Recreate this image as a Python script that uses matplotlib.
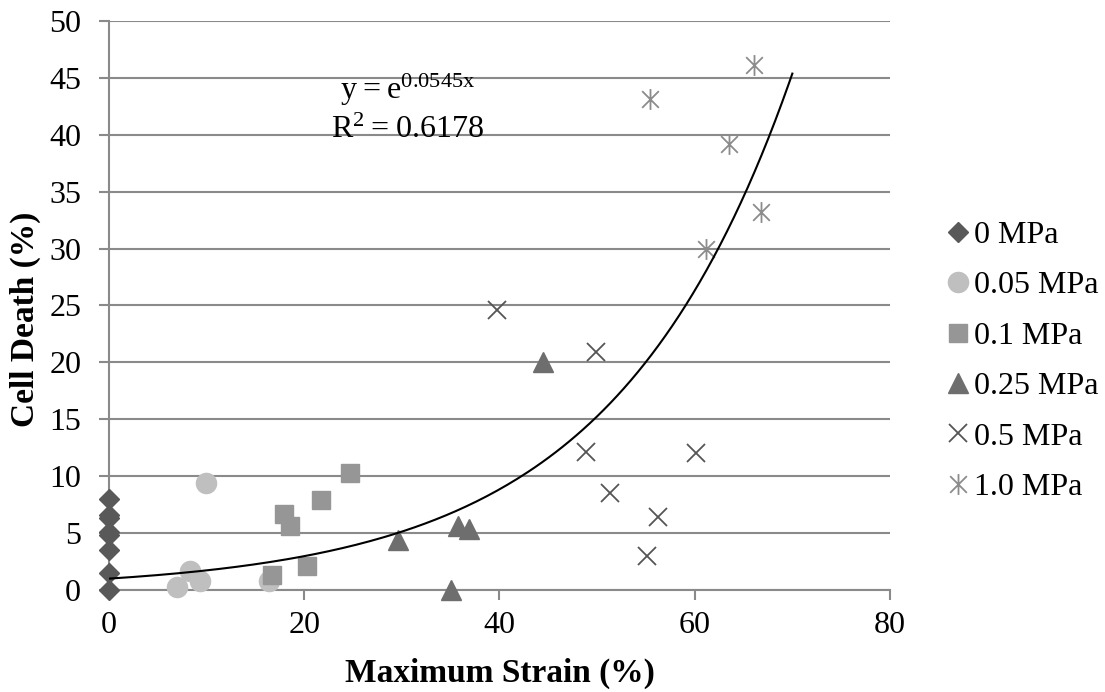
import numpy as np
import matplotlib
matplotlib.use('Agg')
import matplotlib.pyplot as plt
from matplotlib.path import Path

plt.rcParams['font.family'] = ['Liberation Serif', 'DejaVu Serif']
plt.rcParams['mathtext.fontset'] = 'custom'
plt.rcParams['mathtext.rm'] = 'Liberation Serif'

# data (x = maximum strain %, y = cell death %)
x_0 = [0, 0, 0, 0, 0, 0, 0, 0]
y_0 = [0, 1.5, 3.5, 4.8, 5.1, 6.3, 6.6, 8.0]

x_005 = [9.9, 8.3, 9.3, 7.0, 16.4]
y_005 = [9.4, 1.7, 0.8, 0.3, 0.8]

x_01 = [24.7, 21.7, 17.9, 18.5, 20.3, 16.7]
y_01 = [10.3, 7.9, 6.7, 5.6, 2.1, 1.3]

x_025 = [29.6, 35.8, 36.9, 35.0, 44.5]
y_025 = [4.4, 5.6, 5.4, 0.0, 20.0]

x_05 = [39.7, 49.9, 48.9, 60.1, 51.3, 56.2, 55.1]
y_05 = [24.6, 20.9, 12.1, 12.0, 8.5, 6.4, 3.0]

x_10 = [66.1, 55.4, 63.5, 66.8, 61.2]
y_10 = [46.1, 43.1, 39.2, 33.2, 30.0]

labels = ['0 MPa', '0.05 MPa', '0.1 MPa', '0.25 MPa', '0.5 MPa', '1.0 MPa']

# exponential trendline y = a*e^(b*x)
fit_a = 1.0
fit_b = 0.0545
fit_r2 = 0.6178
fit_xmax = 70

# asterisk marker like Excel's (X plus vertical bar)
star = Path([(-1, -1), (1, 1), (-1, 1), (1, -1), (0, -1.25), (0, 1.25)],
            [Path.MOVETO, Path.LINETO, Path.MOVETO, Path.LINETO, Path.MOVETO, Path.LINETO])

fig = plt.figure(figsize=(11.05, 6.92), dpi=100)
ax = fig.add_axes([0.0986, 0.1474, 0.7068, 0.8223])

grid_col = '#8a8a8a'
ax.set_xlim(0, 80)
ax.set_ylim(0, 50)
ax.set_xticks(np.arange(0, 81, 20))
ax.set_yticks(np.arange(0, 51, 5))
ax.yaxis.grid(True, color=grid_col, lw=1.5, zorder=0)
ax.set_axisbelow(True)
for s in ['top', 'right']:
    ax.spines[s].set_visible(False)
for s in ['left', 'bottom']:
    ax.spines[s].set_color(grid_col)
    ax.spines[s].set_linewidth(1.5)
ax.tick_params(axis='both', colors=grid_col, labelcolor='black', labelsize=23,
               width=1.5, length=7)
ax.tick_params(axis='y', pad=13)
ax.tick_params(axis='x', pad=8)

ax.plot(x_0, y_0, ls='none', marker='D', ms=10.5, color='#595959', label=labels[0], clip_on=False, zorder=3)
ax.plot(x_005, y_005, ls='none', marker='o', ms=14.5, color='#bfbfbf', label=labels[1], clip_on=False, zorder=3)
ax.plot(x_01, y_01, ls='none', marker='s', ms=13.5, color='#969696', label=labels[2], clip_on=False, zorder=3)
ax.plot(x_025, y_025, ls='none', marker='^', ms=14, color='#6e6e6e', label=labels[3], clip_on=False, zorder=3)
ax.plot(x_05, y_05, ls='none', marker='x', ms=13.5, mew=1.3, color='#555555', label=labels[4], clip_on=False, zorder=3)
ax.plot(x_10, y_10, ls='none', marker=star, ms=15, mew=1.3, color='#8c8c8c', label=labels[5], clip_on=False, zorder=3)

xf = np.linspace(0, fit_xmax, 200)
ax.plot(xf, fit_a * np.exp(fit_b * xf), color='black', lw=1.5, zorder=4)

ax.text(0.382, 0.879, r'$\mathrm{y = e^{%.4fx}}$' % fit_b, transform=ax.transAxes,
        ha='center', va='center', fontsize=23)
ax.text(0.382, 0.808, r'$\mathrm{R^{2} = %.4f}$' % fit_r2, transform=ax.transAxes,
        ha='center', va='center', fontsize=23)

ax.set_xlabel('Maximum Strain (%)', fontsize=24, fontweight='bold')
ax.set_ylabel('Cell Death (%)', fontsize=24, fontweight='bold')
ax.xaxis.set_label_coords(0.5, -0.146)
ax.yaxis.set_label_coords(-0.1075, 0.476)
ax.yaxis.label.set_va('center')
ax.xaxis.label.set_va('center')

fig.legend(loc='center left', bbox_to_anchor=(0.855, 0.478), frameon=False,
           fontsize=23, handlelength=0.8, handletextpad=0.1, labelspacing=0.66,
           borderpad=0, borderaxespad=0)

fig.savefig('out.png', dpi=100)
